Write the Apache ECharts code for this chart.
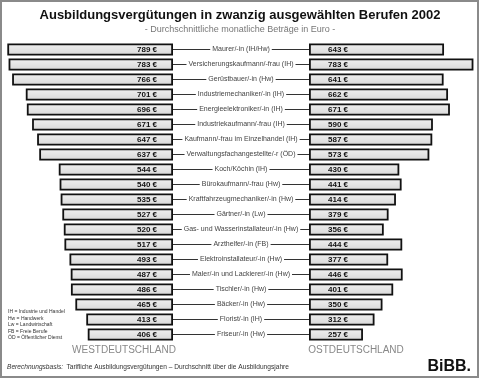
<!DOCTYPE html>
<html>
<head>
<meta charset="utf-8">
<script src="https://cdn.jsdelivr.net/npm/echarts@6/dist/echarts.min.js"></script>
<style>html,body{margin:0;padding:0;background:#fff}#c{width:480px;height:380px}</style>
</head>
<body>
<div id="c"></div>
<script>
const categories = [
  'Maurer/-in (IH/Hw)',
  'Versicherungskaufmann/-frau (IH)',
  'Gerüstbauer/-in (Hw)',
  'Industriemechaniker/-in (IH)',
  'Energieelektroniker/-in (IH)',
  'Industriekaufmann/-frau (IH)',
  'Kaufmann/-frau im Einzelhandel (IH)',
  'Verwaltungsfachangestellte/-r (ÖD)',
  'Koch/Köchin (IH)',
  'Bürokaufmann/-frau (Hw)',
  'Kraftfahrzeugmechaniker/-in (Hw)',
  'Gärtner/-in (Lw)',
  'Gas- und Wasserinstallateur/-in (Hw)',
  'Arzthelfer/-in (FB)',
  'Elektroinstallateur/-in (Hw)',
  'Maler/-in und Lackierer/-in (Hw)',
  'Tischler/-in (Hw)',
  'Bäcker/-in (Hw)',
  'Florist/-in (IH)',
  'Friseur/-in (Hw)'
];
const west = [789, 783, 766, 701, 696, 671, 647, 637, 544, 540, 535, 527, 520, 517, 493, 487, 486, 465, 413, 406];
const east = [643, 783, 641, 662, 671, 590, 587, 573, 430, 441, 414, 379, 356, 444, 377, 446, 401, 350, 312, 257];
const legendLines = [
  'IH = Industrie und Handel',
  'Hw = Handwerk',
  'Lw = Landwirtschaft',
  'FB = Freie Berufe',
  'ÖD = Öffentlicher Dienst'
];
const titleText = 'Ausbildungsvergütungen in zwanzig ausgewählten Berufen 2002';
const subtitleText = '- Durchschnittliche monatliche Beträge in Euro -';
const westLabel = 'WESTDEUTSCHLAND';
const eastLabel = 'OSTDEUTSCHLAND';
const footerLead = 'Berechnungsbasis:';
const footerText = 'Tarifliche Ausbildungsvergütungen – Durchschnitt über die Ausbildungsjahre';
const logoText = 'BiBB.';

const FONT = '"Liberation Sans", Arial, sans-serif';
const barFill = new echarts.graphic.LinearGradient(0, 0, 0, 1, [
  {offset: 0, color: '#f0f0f0'},
  {offset: 1, color: '#d8d8d8'}
]);
const barStyle = {color: barFill, borderColor: '#111', borderWidth: 1.8};
const valLabel = {
  show: true,
  formatter: p => p.value + ' €',
  fontFamily: FONT,
  fontWeight: 'bold',
  fontSize: 8,
  color: '#111'
};

const chart = echarts.init(document.getElementById('c'), null, {renderer: 'canvas'});
const graphics = [
  {type: 'rect', shape: {x: 1, y: 1, width: 477, height: 376}, style: {fill: 'none', stroke: '#8a8a8a', lineWidth: 2}, silent: true},
  {type: 'text', x: 240, y: 15, style: {text: titleText, font: 'bold 13px ' + FONT, fill: '#111', textAlign: 'center', textVerticalAlign: 'middle'}},
  {type: 'text', x: 240, y: 30, style: {text: subtitleText, font: '9px ' + FONT, fill: '#777', textAlign: 'center', textVerticalAlign: 'middle'}},
  {type: 'text', x: 124, y: 350, style: {text: westLabel, font: '10px ' + FONT, fill: '#888', textAlign: 'center', textVerticalAlign: 'middle'}},
  {type: 'text', x: 356, y: 350, style: {text: eastLabel, font: '10px ' + FONT, fill: '#888', textAlign: 'center', textVerticalAlign: 'middle'}},
  {type: 'text', x: 7, y: 367, style: {
    text: '{a|' + footerLead + '} {b|' + footerText + '}',
    rich: {
      a: {font: 'italic 6.6px ' + FONT, fill: '#333'},
      b: {font: '6.6px ' + FONT, fill: '#333'}
    },
    textAlign: 'left', textVerticalAlign: 'middle'}},
  {type: 'text', x: 471, y: 367, style: {text: logoText, font: 'bold 16px ' + FONT, fill: '#111', textAlign: 'right', textVerticalAlign: 'middle'}}
];
legendLines.forEach((t, i) => {
  graphics.push({type: 'text', x: 8, y: 312 + i * 6.5, style: {text: t, font: '5px ' + FONT, fill: '#333', textAlign: 'left', textVerticalAlign: 'middle'}});
});

chart.setOption({
  backgroundColor: '#fff',
  animation: false,
  graphic: graphics,
  grid: [
    {left: 5, width: 168, top: 42, height: 300},
    {left: 309, width: 168, top: 42, height: 300}
  ],
  xAxis: [
    {gridIndex: 0, type: 'value', min: 0, max: 800, inverse: true, show: false},
    {gridIndex: 1, type: 'value', min: 0, max: 800, show: false}
  ],
  yAxis: [
    {
      gridIndex: 0, type: 'category', data: categories, inverse: true, position: 'right',
      axisLine: {show: false},
      axisTick: {show: true, alignWithLabel: true, length: 136, lineStyle: {color: '#333', width: 1}},
      axisLabel: {
        show: true, margin: 68, align: 'center', fontFamily: FONT, fontSize: 7, color: '#444',
        backgroundColor: '#fff', padding: [0, 2]
      },
      splitLine: {show: false}
    },
    {gridIndex: 1, type: 'category', data: categories, inverse: true, show: false}
  ],
  series: [
    {
      type: 'bar', xAxisIndex: 0, yAxisIndex: 0, data: west, barWidth: 12,
      itemStyle: barStyle,
      label: Object.assign({}, valLabel, {position: 'insideRight', distance: 16})
    },
    {
      type: 'bar', xAxisIndex: 1, yAxisIndex: 1, data: east, barWidth: 12,
      itemStyle: barStyle,
      label: Object.assign({}, valLabel, {position: 'insideLeft', distance: 19})
    }
  ]
});
</script>
</body>
</html>
